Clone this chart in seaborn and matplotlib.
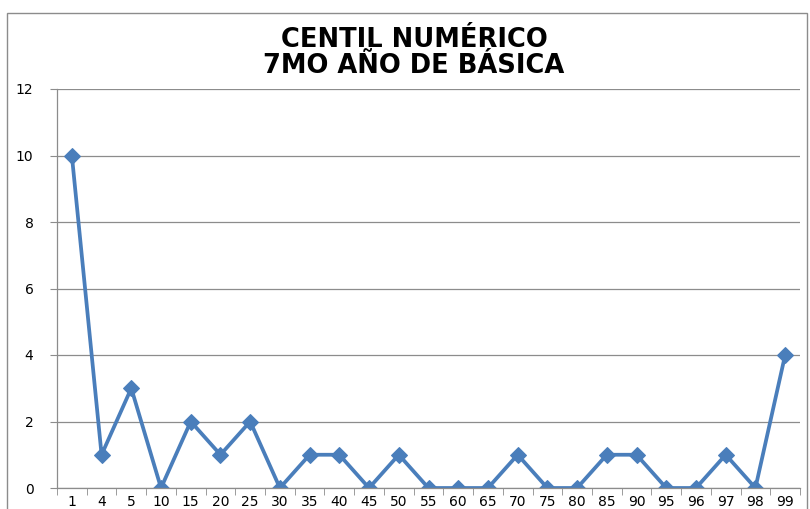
import numpy as np
import pandas as pd
import matplotlib
matplotlib.use('Agg')
import matplotlib.pyplot as plt
import seaborn as sns
from matplotlib.patches import Rectangle

# data
centiles = ['1', '4', '5', '10', '15', '20', '25', '30', '35', '40', '45', '50', '55',
            '60', '65', '70', '75', '80', '85', '90', '95', '96', '97', '98', '99']
counts = [10, 1, 3, 0, 2, 1, 2, 0, 1, 1, 0, 1, 0, 0, 0, 1, 0, 0, 1, 1, 0, 0, 1, 0, 4]

df = pd.DataFrame({'pos': np.arange(len(centiles)), 'centil': centiles, 'count': counts})

sns.set_style('white')
plt.rcParams['font.family'] = ['DejaVu Sans']
plt.rcParams['text.color'] = 'black'
plt.rcParams['xtick.labelcolor'] = 'black'
plt.rcParams['ytick.labelcolor'] = 'black'

fig = plt.figure(figsize=(8.1, 5.09), dpi=100)
ax = fig.add_axes([57 / 810, 21 / 509, 743 / 810, 399 / 509])

# outer chart border
fig.patches.append(Rectangle((7 / 810, -0.01), 800 / 810, (509 - 13) / 509 + 0.01,
                             transform=fig.transFigure, fill=False,
                             edgecolor='#8c8c8c', linewidth=1.0))

sns.lineplot(data=df, x='pos', y='count', ax=ax, color='#4A7EBB', linewidth=2.7,
             marker='D', markersize=8, markeredgecolor='#4A7EBB')

ax.set_xlim(-0.5, len(centiles) - 0.5)
ax.set_ylim(0, 12)
ax.set_yticks(range(0, 13, 2))
ax.yaxis.grid(True, color='#8c8c8c', linewidth=0.9)
ax.set_axisbelow(True)

ax.set_xticks(df['pos'])
ax.set_xticklabels(centiles)
ax.set_xticks(np.arange(-0.5, len(centiles), 1), minor=True)
ax.tick_params(axis='x', which='major', length=0, pad=5, labelsize=10)
ax.tick_params(axis='x', which='minor', length=5, color='#8c8c8c', direction='out', bottom=True)
ax.tick_params(axis='y', length=5, color='#8c8c8c', direction='out', left=True, labelsize=10, pad=12)

for side in ['top', 'right']:
    ax.spines[side].set_visible(False)
for side in ['left', 'bottom']:
    ax.spines[side].set_color('#8c8c8c')
    ax.spines[side].set_linewidth(0.9)

ax.set_xlabel('')
ax.set_ylabel('')

fig.text(414 / 810, 1 - 53 / 509, 'CENTIL NUMÉRICO\n7MO AÑO DE BÁSICA', ha='center', va='center',
         fontsize=18.5, fontweight='bold', linespacing=1.0, color='black')

plt.savefig('out.png', dpi=100)
